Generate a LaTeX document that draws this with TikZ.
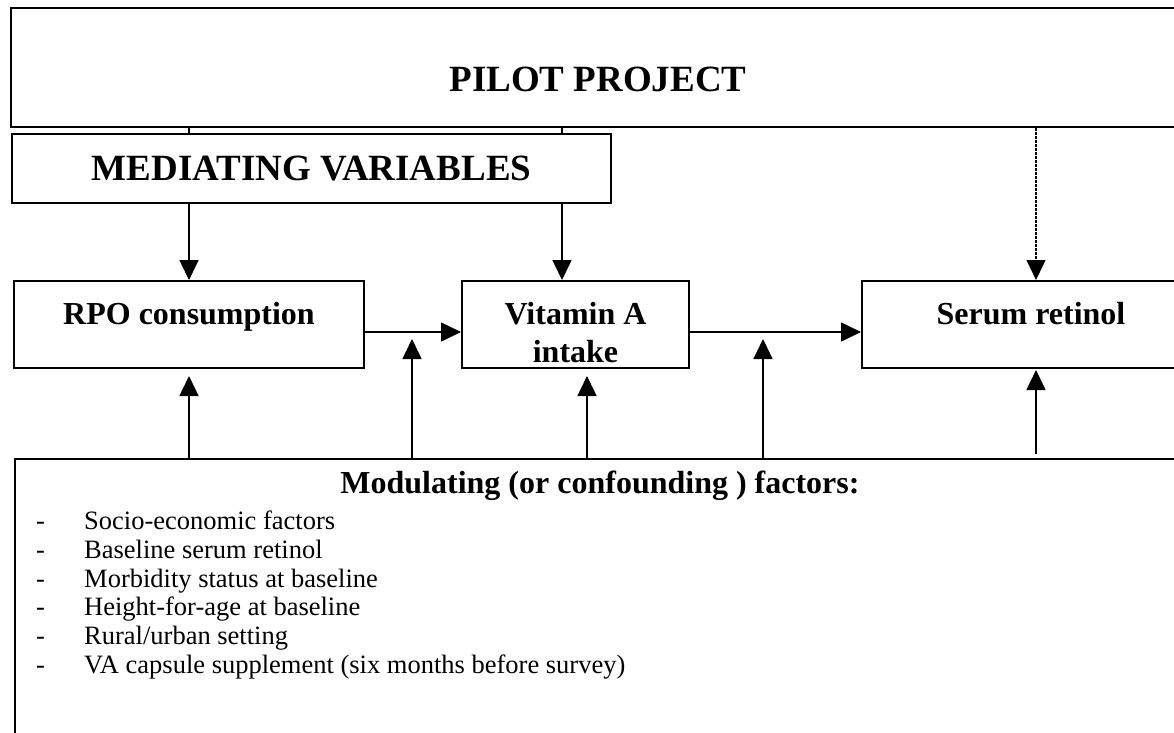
\documentclass[tikz,border=0pt]{standalone}
\usepackage{fontspec}
\setmainfont{Liberation Serif}
\usetikzlibrary{arrows.meta}

\begin{document}
\begin{tikzpicture}[x=1pt,y=-1pt,
  frame/.style={draw,line width=2pt,inner sep=0pt,anchor=north west},
  stage/.style={frame,font=\fontsize{32}{38}\selectfont\bfseries,
    text height=43pt,text depth=44pt},
  heading/.style={font=\fontsize{37}{44}\selectfont\bfseries},
  subheading/.style={font=\fontsize{32}{38}\selectfont\bfseries,inner sep=0pt},
  factor/.style={font=\fontsize{26.5}{30}\selectfont,inner sep=0pt,anchor=base west},
  link/.style={line width=1.6pt,-{Triangle[length=20pt,width=19pt]}},
  tick/.style={line width=1.6pt}]

  \clip (0,0) rectangle (1174,732);

  % Pilot project and mediating variables

  \node [frame,heading,minimum width=1174pt,text height=83pt,text depth=36pt]
    (pp-box) at (10,7) {PILOT PROJECT};
  \node [frame,heading,minimum width=599pt,minimum height=69pt]
    (med-box) at (11,133) {MEDIATING VARIABLES};

  % The three stages

  \node [stage,minimum width=350pt] (rpo) at (13,280) {RPO consumption};
  \node [stage,minimum width=227pt] (vita) at (461,280)
    {\begin{tabular}[t]{@{}c@{}}Vitamin A\\intake\end{tabular}};
  \node [stage,minimum width=338pt] (ser) at (861,280) {Serum retinol};

  % Modulating factors (box runs past the lower right corner)

  \node [frame,minimum width=1180pt,minimum height=274.5pt] (mod-box) at (14,458) {};
  \node [subheading] (mod-title) at (600,486) {Modulating (or confounding ) factors:};
  \node [factor] (f-soc) at (36,529) {\makebox[48pt][l]{-}Socio-economic factors};
  \node [factor] (f-ser) at (36,558) {\makebox[48pt][l]{-}Baseline serum retinol};
  \node [factor] (f-mor) at (36,587) {\makebox[48pt][l]{-}Morbidity status at baseline};
  \node [factor] (f-hfa) at (36,615) {\makebox[48pt][l]{-}Height-for-age at baseline};
  \node [factor] (f-rur) at (36,644) {\makebox[48pt][l]{-}Rural/urban setting};
  \node [factor] (f-cap) at (36,673) {\makebox[48pt][l]{-}VA capsule supplement (six months before survey)};

  % Columns of the vertical links

  \coordinate (c-va) at (562,0);
  \coordinate (c-vb) at (587,0);
  \coordinate (c-fa) at (412,0);
  \coordinate (c-fb) at (763,0);
  \coordinate (c-sr) at (1036,0);

  % Links from the pilot project

  \draw [tick] (pp-box.south -| rpo) -- (med-box.north -| rpo);
  \draw [tick] (pp-box.south -| c-va) -- (med-box.north -| c-va);
  \draw [link] (med-box.south -| rpo) -- (rpo.north);
  \draw [link] (med-box.south -| c-va) -- (vita.north -| c-va);
  \draw [link,line width=1.2pt,dash pattern=on 2.5pt off 1.5pt]
    (pp-box.south -| c-sr) -- (ser.north -| c-sr);

  % Flow between the stages

  \draw [link] ([yshift=-7.5pt]rpo.east) coordinate (fl-a)
    -- ([yshift=-7.5pt]vita.west);
  \draw [link] ([yshift=-7.5pt]vita.east) coordinate (fl-b)
    -- ([yshift=-7.5pt]ser.west);

  % Modulating links

  \draw [link,shorten >=7pt] (mod-box.north -| rpo) -- (rpo.south);
  \draw [link,shorten >=7pt] (mod-box.north -| c-fa) -- (fl-a -| c-fa);
  \draw [link,shorten >=7pt] (mod-box.north -| c-vb) -- (vita.south -| c-vb);
  \draw [link,shorten >=7pt] (mod-box.north -| c-fb) -- (fl-b -| c-fb);
  \draw [link,shorten <=4pt,shorten >=1pt] (mod-box.north -| c-sr) -- (ser.south -| c-sr);
\end{tikzpicture}
\end{document}
